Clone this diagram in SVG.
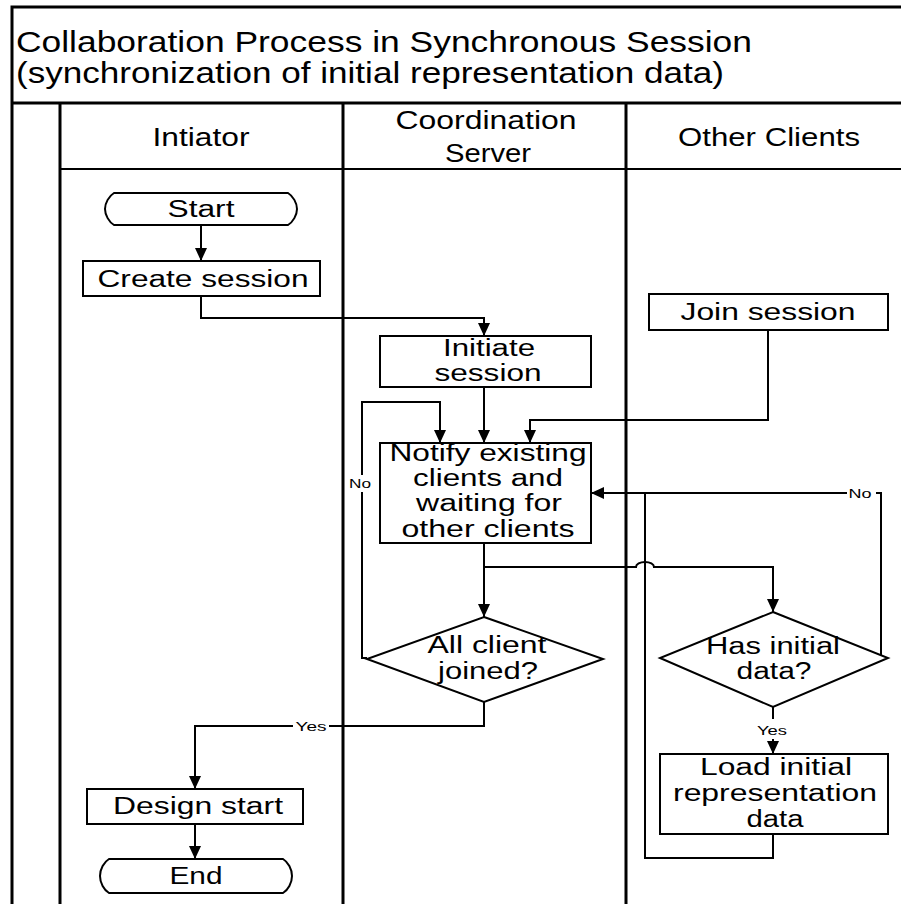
<svg xmlns="http://www.w3.org/2000/svg" width="901" height="904" viewBox="0 0 901 904">
  <style>
    .frame { fill: none; stroke: #000; stroke-width: 3; }
    .thin { fill: none; stroke: #000; stroke-width: 2; }
    .box { fill: #fff; stroke: #000; stroke-width: 2; }
    .conn { fill: none; stroke: #000; stroke-width: 2; marker-end: url(#arrow); }
    .plain { fill: none; stroke: #000; stroke-width: 2; }
    text { font-family: "Liberation Sans", Arial, sans-serif; fill: #000; text-anchor: middle; }
    .title { font-size: 29px; text-anchor: start; }
    .head { font-size: 26px; }
    .node { font-size: 23px; }
    .lbl { font-size: 13px; }
    .lblbg { fill: #fff; stroke: none; }
  </style>
  <defs>
    <marker id="arrow" viewBox="0 0 13 12" markerWidth="13" markerHeight="12" refX="13" refY="6" orient="auto" markerUnits="userSpaceOnUse">
      <path d="M0,0 L13,6 L0,12 Z" fill="#000"/>
    </marker>
  </defs>

  <rect width="901" height="904" fill="#fff"/>

  <!-- pool frame, title band and swimlanes -->
  <g id="pool">
    <path class="frame" d="M12,904 V7 H901"/>
    <path class="frame" d="M12,103 H901"/>
    <path class="frame" d="M60,103 V904"/>
    <path class="frame" d="M343,103 V904"/>
    <path class="frame" d="M626,103 V904"/>
    <path class="thin" d="M60,169 H901"/>
    <text class="title" x="16" y="52" textLength="736" lengthAdjust="spacingAndGlyphs">Collaboration Process in Synchronous Session</text>
    <text class="title" x="16" y="83" textLength="708" lengthAdjust="spacingAndGlyphs">(synchronization of initial representation data)</text>
  </g>
  <g id="lane-initiator">
    <text class="head" x="201" y="146" textLength="97" lengthAdjust="spacingAndGlyphs">Intiator</text>
  </g>
  <g id="lane-server">
    <text class="head" x="486" y="129" textLength="181" lengthAdjust="spacingAndGlyphs">Coordination</text>
    <text class="head" x="488" y="162" textLength="86" lengthAdjust="spacingAndGlyphs">Server</text>
  </g>
  <g id="lane-clients">
    <text class="head" x="769" y="146" textLength="182" lengthAdjust="spacingAndGlyphs">Other Clients</text>
  </g>

  <!-- connectors -->
  <g id="connectors">
    <path class="conn" d="M201,225 V261"/>
    <path class="conn" d="M201,296 V318 H484 V336"/>
    <path class="conn" d="M484,387 V443"/>
    <path class="conn" d="M768,330 V420 H530 V443"/>
    <path class="conn" d="M367,658 H362 V402 H440 V443"/>
    <path class="conn" d="M484,543 V617"/>
    <path class="conn" d="M484,567 H636 A9,5 0 0 1 654,567 H773 V612"/>
    <path class="conn" d="M888,658 H881 V493 H591"/>
    <path class="conn" d="M773,707 V754"/>
    <path class="plain" d="M773,834 V858 H645 V493"/>
    <path class="conn" d="M484,702 V726 H195 V789"/>
    <path class="conn" d="M195,824 V859"/>

    <rect class="lblbg" x="348" y="475" width="26" height="17"/>
    <text class="lbl" x="360" y="488" textLength="22" lengthAdjust="spacingAndGlyphs">No</text>
    <rect class="lblbg" x="847" y="485" width="29" height="17"/>
    <text class="lbl" x="860" y="498" textLength="23" lengthAdjust="spacingAndGlyphs">No</text>
    <rect class="lblbg" x="293" y="718" width="36" height="17"/>
    <text class="lbl" x="311" y="731" textLength="31" lengthAdjust="spacingAndGlyphs">Yes</text>
    <rect class="lblbg" x="755" y="719" width="35" height="20"/>
    <text class="lbl" x="772" y="735" textLength="30" lengthAdjust="spacingAndGlyphs">Yes</text>
  </g>

  <!-- flow nodes -->
  <g id="start">
    <path class="box" d="M114,193 H288 C293,196 297,203 297,209 C297,215 293,222 288,225 H114 C109,222 105,215 105,209 C105,203 109,196 114,193 Z"/>
    <text class="node" x="201" y="217" textLength="67" lengthAdjust="spacingAndGlyphs">Start</text>
  </g>
  <g id="create-session">
    <rect class="box" x="83" y="261" width="237" height="35"/>
    <text class="node" x="203" y="287" textLength="211" lengthAdjust="spacingAndGlyphs">Create session</text>
  </g>
  <g id="initiate-session">
    <rect class="box" x="380" y="336" width="211" height="51"/>
    <text class="node" x="489" y="356" textLength="92" lengthAdjust="spacingAndGlyphs">Initiate</text>
    <text class="node" x="488" y="381" textLength="107" lengthAdjust="spacingAndGlyphs">session</text>
  </g>
  <g id="notify-clients">
    <rect class="box" x="380" y="443" width="211" height="100"/>
    <text class="node" x="488" y="461" textLength="197" lengthAdjust="spacingAndGlyphs">Notify existing</text>
    <text class="node" x="488" y="486" textLength="150" lengthAdjust="spacingAndGlyphs">clients and</text>
    <text class="node" x="489" y="511" textLength="146" lengthAdjust="spacingAndGlyphs">waiting for</text>
    <text class="node" x="488" y="537" textLength="173" lengthAdjust="spacingAndGlyphs">other clients</text>
  </g>
  <g id="join-session">
    <rect class="box" x="649" y="294" width="239" height="36"/>
    <text class="node" x="768" y="320" textLength="175" lengthAdjust="spacingAndGlyphs">Join session</text>
  </g>
  <g id="all-joined">
    <path class="box" d="M484,617 L603,659 L484,702 L367,659 Z"/>
    <text class="node" x="487" y="653" textLength="119" lengthAdjust="spacingAndGlyphs">All client</text>
    <text class="node" x="488" y="679" textLength="100" lengthAdjust="spacingAndGlyphs">joined?</text>
  </g>
  <g id="has-initial-data">
    <path class="box" d="M773,612 L888,658 L773,707 L660,658 Z"/>
    <text class="node" x="773" y="654" textLength="134" lengthAdjust="spacingAndGlyphs">Has initial</text>
    <text class="node" x="774" y="679" textLength="75" lengthAdjust="spacingAndGlyphs">data?</text>
  </g>
  <g id="load-data">
    <rect class="box" x="660" y="754" width="228" height="80"/>
    <text class="node" x="776" y="775" textLength="152" lengthAdjust="spacingAndGlyphs">Load initial</text>
    <text class="node" x="775" y="801" textLength="204" lengthAdjust="spacingAndGlyphs">representation</text>
    <text class="node" x="775" y="827" textLength="57" lengthAdjust="spacingAndGlyphs">data</text>
  </g>
  <g id="design-start">
    <rect class="box" x="87" y="789" width="216" height="35"/>
    <text class="node" x="198" y="814" textLength="170" lengthAdjust="spacingAndGlyphs">Design start</text>
  </g>
  <g id="end">
    <path class="box" d="M109,859 H283 C288,862 292,869 292,876 C292,883 288,890 283,893 H109 C104,890 100,883 100,876 C100,869 104,862 109,859 Z"/>
    <text class="node" x="196" y="884" textLength="53" lengthAdjust="spacingAndGlyphs">End</text>
  </g>
</svg>
